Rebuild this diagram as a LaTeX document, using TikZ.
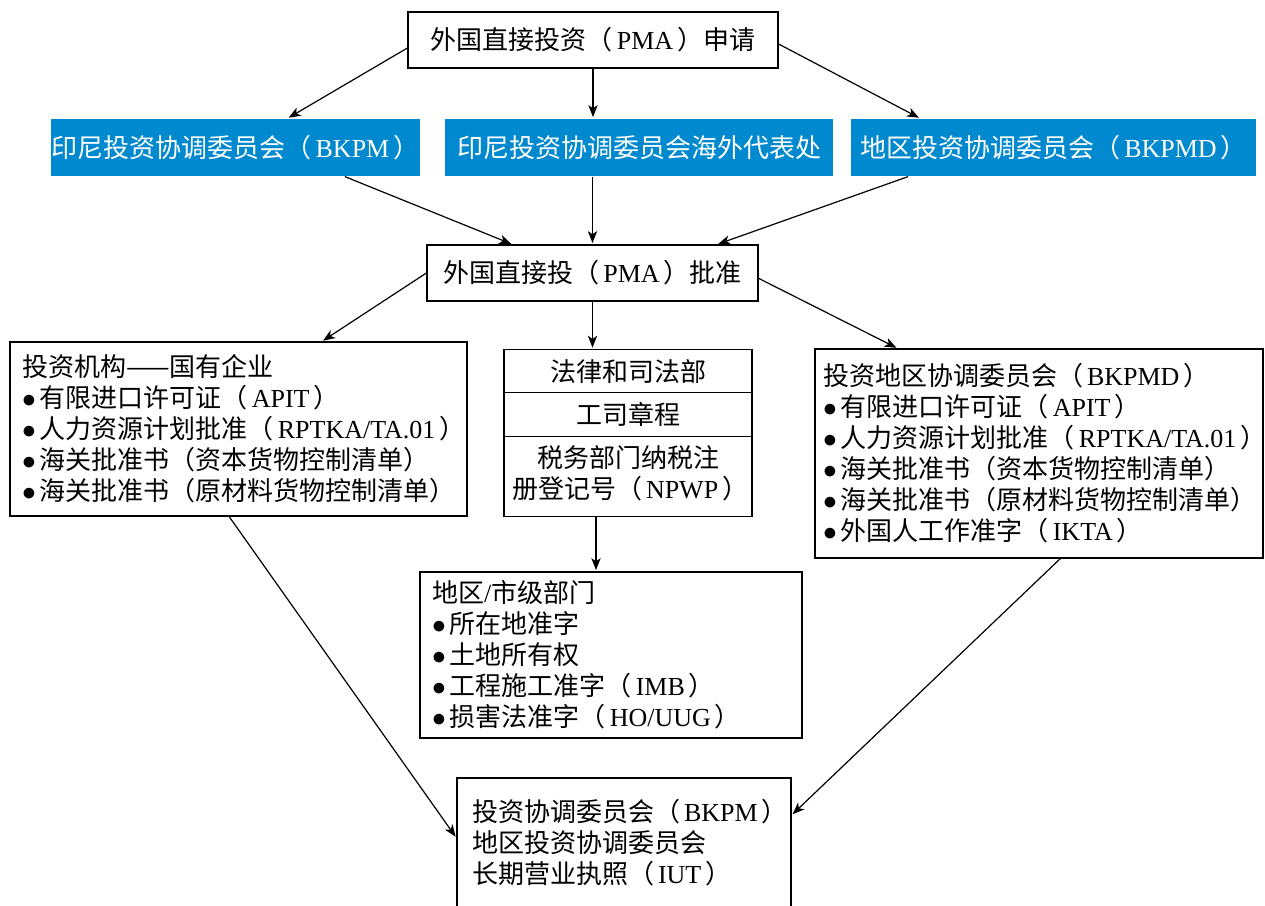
\documentclass[tikz,border=0pt]{standalone}
\usepackage{fontspec}
\setmainfont{Noto Sans CJK SC}
\newfontfamily\lat{Liberation Serif}
\usetikzlibrary{arrows.meta,shapes.multipart}

\definecolor{bkpmblue}{RGB}{0,137,207}
\newcommand{\en}[1]{{\lat\kern3pt#1\kern3pt}}
\newcommand{\itm}{$\bullet$\kern3pt}

\begin{document}
\begin{tikzpicture}[x=0.75pt,y=-0.75pt,->,>={Stealth[length=9pt,width=7pt,inset=2.5pt]},shorten >=1pt,line width=0.9pt]

            \tikzstyle{every node}=[font=\fontsize{19.5}{23.25}\selectfont]
            \tikzstyle{office}=[draw=black,minimum height=42pt,inner sep=0pt]
            \tikzstyle{agency}=[fill=bkpmblue,text=white,minimum height=42.75pt,inner sep=0pt]
            \tikzstyle{listbox}=[draw=black,align=left,inner ysep=0pt]

            \useasboundingbox (0,0) rectangle (1265,906);

            \node[office,minimum width=277.5pt]  (apply)    at (593,40)      {外国直接投资（\en{PMA}）申请};
            \node[agency,minimum width=276.75pt] (bkpm)     at (235.5,147.5) {印尼投资协调委员会（\en{BKPM}）};
            \node[agency,minimum width=291pt]    (overseas) at (639,147.5)   {印尼投资协调委员会海外代表处};
            \node[agency,minimum width=303.75pt] (bkpmd)    at (1053.5,147.5) {地区投资协调委员会（\en{BKPMD}）};
            \node[office,minimum width=248.25pt] (approve)  at (592.5,273)   {外国直接投（\en{PMA}）批准};

            \node[listbox,minimum height=130.5pt,inner xsep=9pt,text width=324.75pt] (soe) at (238.5,429)
                {投资机构——国有企业\\
                 \itm 有限进口许可证（\en{APIT}）\\
                 \itm 人力资源计划批准（\en{RPTKA/TA.01}）\\
                 \itm 海关批准书（资本货物控制清单）\\
                 \itm 海关批准书（原材料货物控制清单）};
            \node[draw=black,rectangle split,rectangle split parts=3,text width=174pt,align=center,
                  inner xsep=6pt,inner ysep=6.75pt,anchor=north] (legal) at (628,349)
                {法律和司法部\nodepart{two}工司章程\nodepart{three}税务部门纳税注\\册登记号（\en{NPWP}）\rule[-6pt]{0pt}{6pt}};
            \node[listbox,minimum height=156.75pt,inner xsep=6pt,text width=324pt] (region) at (1039,453.5)
                {投资地区协调委员会（\en{BKPMD}）\\
                 \itm 有限进口许可证（\en{APIT}）\\
                 \itm 人力资源计划批准（\en{RPTKA/TA.01}）\\
                 \itm 海关批准书（资本货物控制清单）\\
                 \itm 海关批准书（原材料货物控制清单）\\
                 \itm 外国人工作准字（\en{IKTA}）};
            \node[listbox,minimum height=124.5pt,inner xsep=9pt,text width=268.5pt] (local) at (611,655)
                {地区{\lat /}市级部门\\
                 \itm 所在地准字\\
                 \itm 土地所有权\\
                 \itm 工程施工准字（\en{IMB}）\\
                 \itm 损害法准字（\en{HO/UUG}）};
            \node[listbox,minimum height=117.75pt,inner xsep=11.25pt,text width=228pt] (permit) at (624,856.5)
                {投资协调委员会（\en{BKPM}）\\
                 地区投资协调委员会\\
                 长期营业执照（\en{IUT}）\\
                 \mbox{}};

            \draw ([yshift=-6pt]apply.west) -- ([xshift=39pt]bkpm.north);
            \draw (apply.south) -- (apply.south |- overseas.north);
            \draw ([yshift=-3pt]apply.east) -- ([xshift=-100pt]bkpmd.north);
            \draw ([xshift=82pt]bkpm.south) -- ([xshift=-60pt]approve.north);
            \draw (overseas.south -| approve.north) -- (approve.north);
            \draw ([xshift=-109pt]bkpmd.south) -- ([xshift=93.4pt]approve.north);
            \draw (approve.west) -- ([xshift=62.6pt]soe.north);
            \draw (approve.south) -- (approve.south |- legal.north);
            \draw ([yshift=-4pt]approve.east) -- ([xshift=-106pt]region.north);
            \draw ([xshift=-24pt]legal.south) -- ([xshift=-24pt]legal.south |- local.north);
            \draw ([xshift=-7pt]soe.south) -- ([yshift=14pt]permit.west);
            \draw ([xshift=16pt]region.south) -- ([yshift=31pt]permit.east);
        \end{tikzpicture}
\end{document}
